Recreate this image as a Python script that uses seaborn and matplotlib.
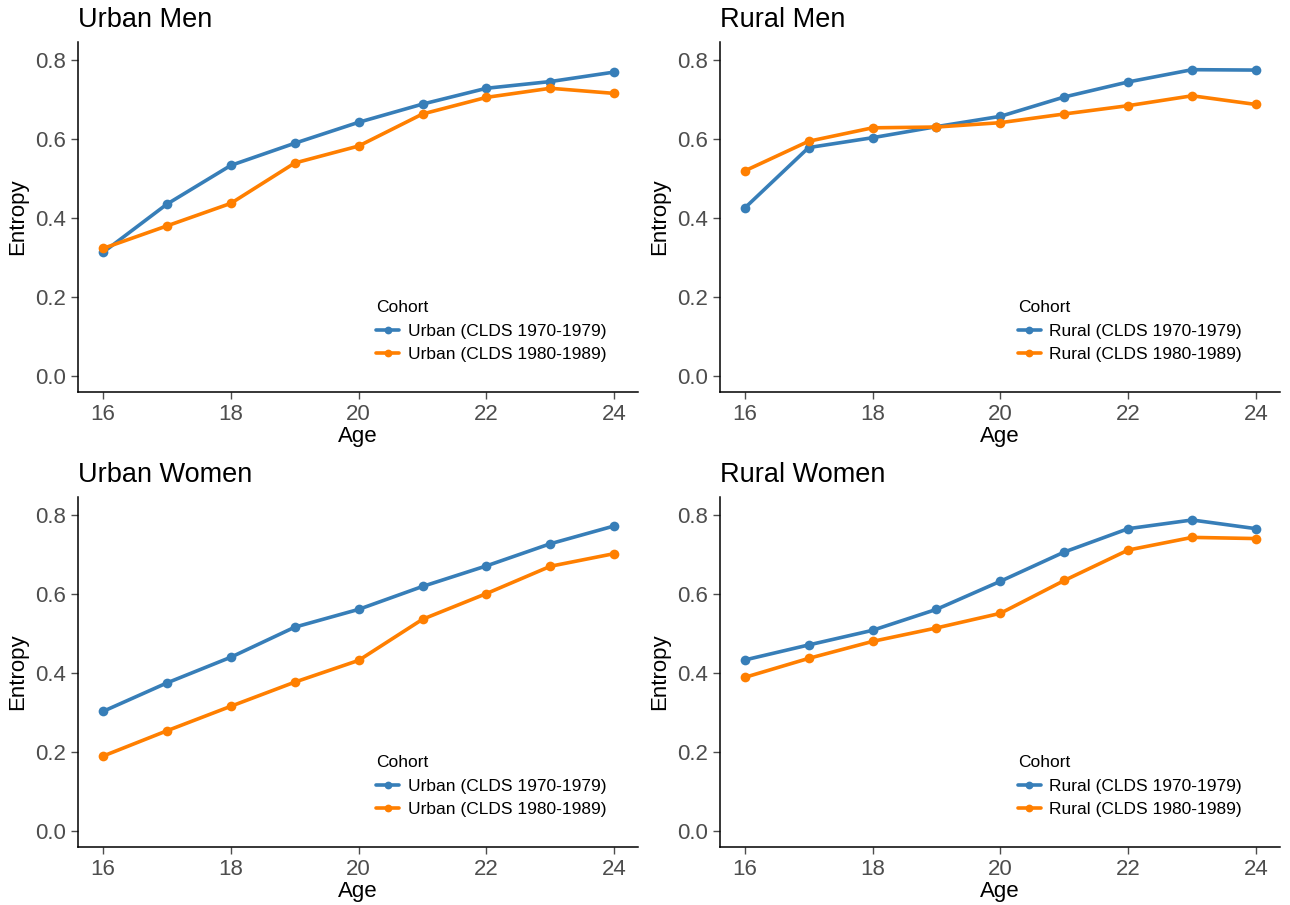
import numpy as np
import pandas as pd
import matplotlib
matplotlib.use("Agg")
import matplotlib.pyplot as plt
import seaborn as sns

ages = [16, 17, 18, 19, 20, 21, 22, 23, 24]

urban_men_70s = [0.313, 0.435, 0.533, 0.589, 0.642, 0.688, 0.728, 0.745, 0.769]
urban_men_80s = [0.323, 0.380, 0.437, 0.539, 0.582, 0.663, 0.705, 0.728, 0.715]
rural_men_70s = [0.425, 0.578, 0.603, 0.631, 0.657, 0.706, 0.744, 0.775, 0.774]
rural_men_80s = [0.519, 0.594, 0.628, 0.630, 0.641, 0.663, 0.684, 0.709, 0.687]
urban_women_70s = [0.303, 0.375, 0.440, 0.516, 0.561, 0.619, 0.671, 0.727, 0.772]
urban_women_80s = [0.190, 0.254, 0.316, 0.377, 0.432, 0.536, 0.601, 0.670, 0.702]
rural_women_70s = [0.433, 0.471, 0.508, 0.561, 0.632, 0.706, 0.765, 0.787, 0.765]
rural_women_80s = [0.389, 0.437, 0.480, 0.514, 0.551, 0.634, 0.711, 0.743, 0.740]

panels = [
    ("Urban Men", "Urban", urban_men_70s, urban_men_80s),
    ("Rural Men", "Rural", rural_men_70s, rural_men_80s),
    ("Urban Women", "Urban", urban_women_70s, urban_women_80s),
    ("Rural Women", "Rural", rural_women_70s, rural_women_80s),
]

sns.set_theme(style="white")
plt.rcParams["font.family"] = ["Liberation Sans", "DejaVu Sans"]

fig, axes = plt.subplots(2, 2, figsize=(12.9, 9.05), dpi=100)
fig.subplots_adjust(left=0.0605, right=0.992, top=0.9536, bottom=0.064,
                    wspace=0.146, hspace=0.30)

for ax, (title, area, s70, s80) in zip(axes.flatten(), panels):
    lab70 = f"{area} (CLDS 1970-1979)"
    lab80 = f"{area} (CLDS 1980-1989)"
    df = pd.DataFrame({
        "Age": ages * 2,
        "Entropy": s70 + s80,
        "Cohort": [lab70] * len(ages) + [lab80] * len(ages),
    })
    sns.lineplot(data=df, x="Age", y="Entropy", hue="Cohort",
                 palette={lab70: "#377EB8", lab80: "#FF7F00"},
                 marker="o", markersize=7, markeredgewidth=0,
                 linewidth=2.6, ax=ax)

    ax.set_xlim(15.61, 24.37)
    ax.set_ylim(-0.04, 0.845)
    ax.set_xticks([16, 18, 20, 22, 24])
    ax.set_yticks([0.0, 0.2, 0.4, 0.6, 0.8])
    ax.set_yticklabels(["0.0", "0.2", "0.4", "0.6", "0.8"])
    ax.tick_params(axis="both", labelsize=16, colors="#4D4D4D",
                   length=5, width=1, direction="out", left=True, bottom=True)
    for s in ["top", "right"]:
        ax.spines[s].set_visible(False)
    for s in ["left", "bottom"]:
        ax.spines[s].set_color("black")
        ax.spines[s].set_linewidth(1.1)
    ax.set_xlabel("Age", fontsize=16, color="black", labelpad=1)
    ax.set_ylabel("Entropy", fontsize=16, color="black", labelpad=5)
    ax.set_title(title, loc="left", x=0.0, fontsize=19.5, pad=11, color="black")

    # legend inside the panel, bottom right, like ggplot
    leg = ax.legend(title="Cohort", loc="lower left",
                    bbox_to_anchor=(0.505, 0.04), frameon=False,
                    fontsize=12.5, title_fontsize=12.5, alignment="left",
                    handlelength=1.3, handletextpad=0.5, labelspacing=0.45,
                    markerscale=0.8)
    leg._legend_box.sep = 7
    leg.get_title().set_color("black")
    for t in leg.get_texts():
        t.set_color("black")

plt.savefig("out.png", dpi=100)
plt.close()
